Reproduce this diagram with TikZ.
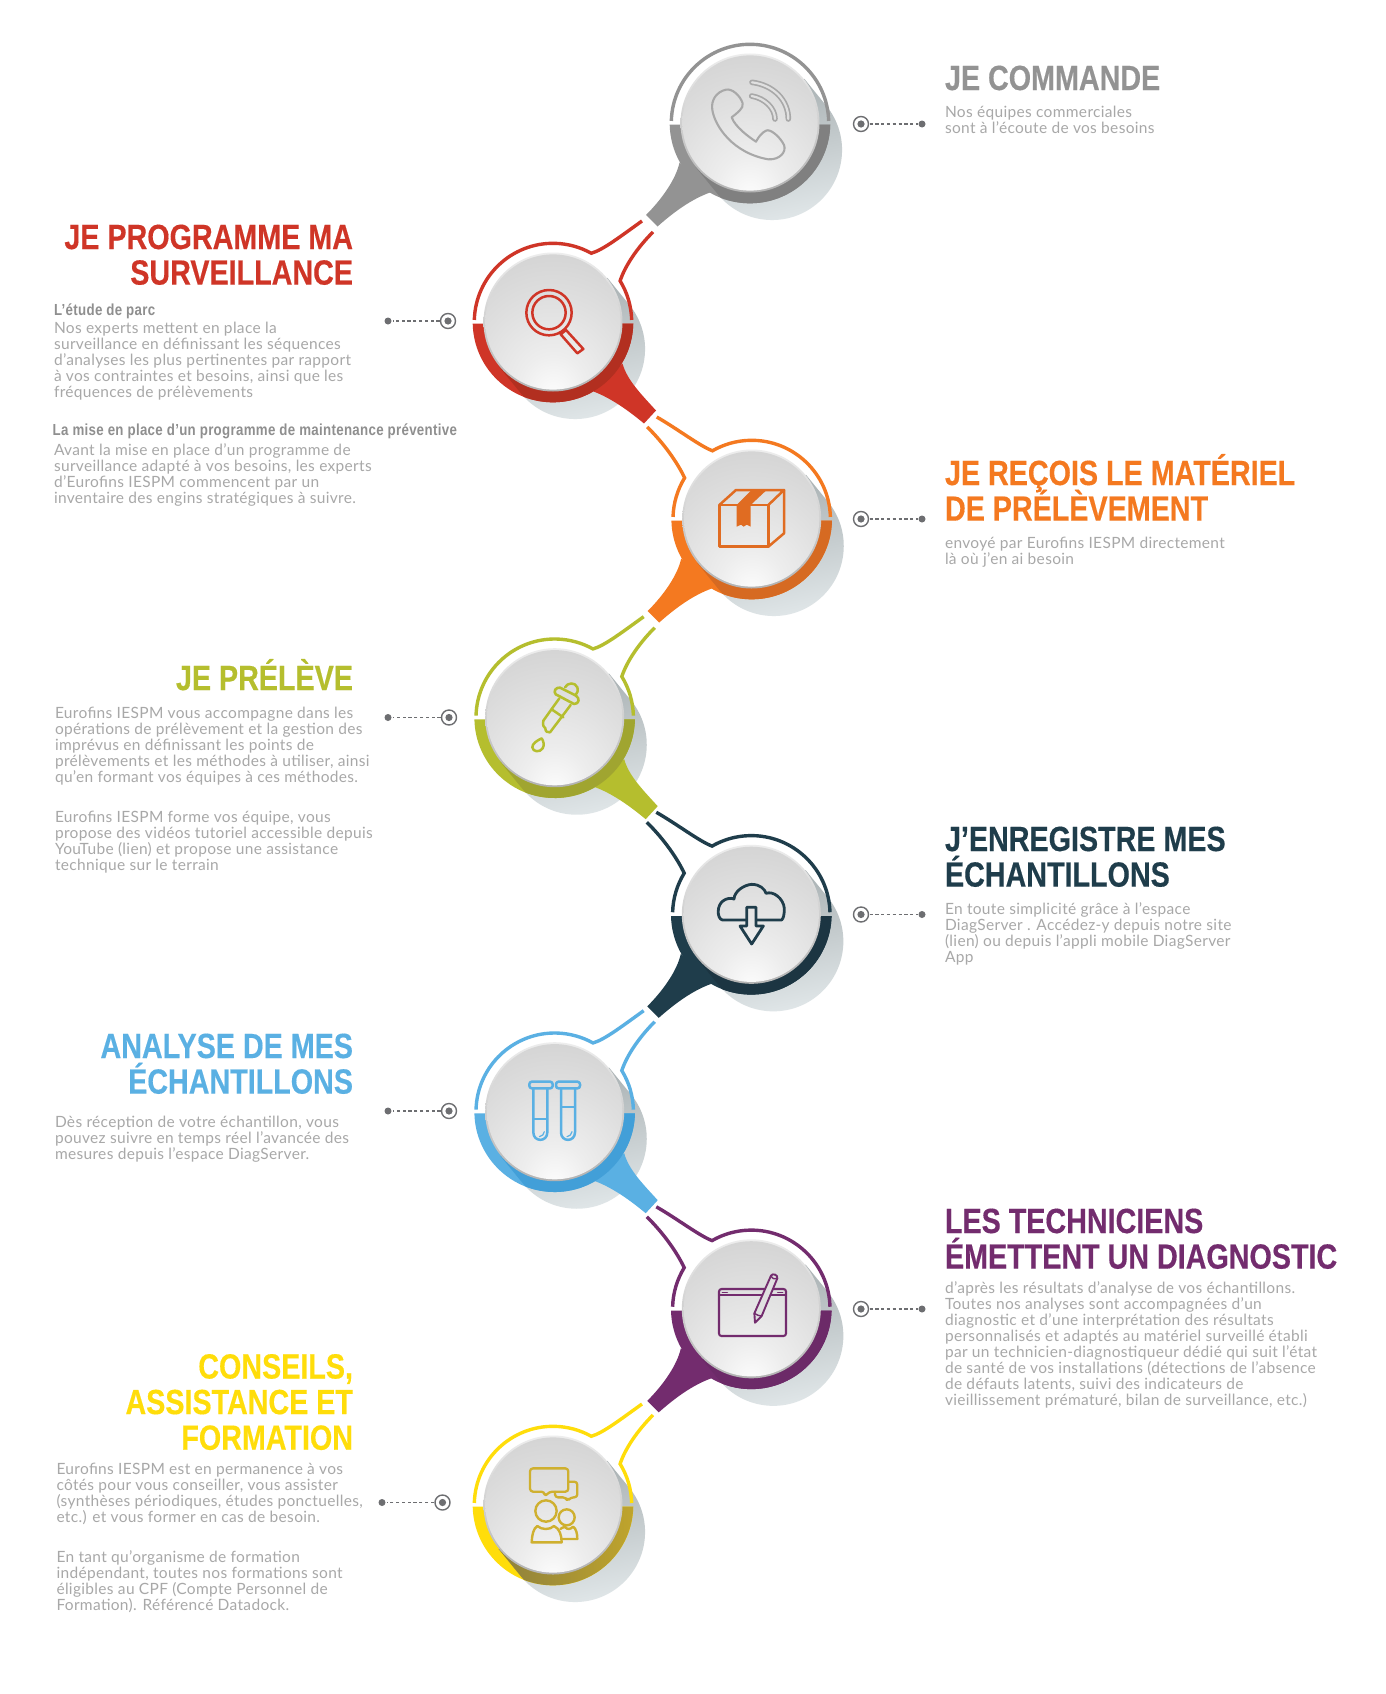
\documentclass[tikz,border=0pt]{standalone}
\usepackage{fontspec}
\setmainfont{Lato}
\newfontfamily\ttlf[FakeStretch=0.82,FakeBold=0.35]{Liberation Sans}
\newfontfamily\subf[FakeStretch=0.83,LetterSpace=2]{Liberation Sans}
\newfontfamily\bodyf[LetterSpace=2.1]{Lato}
\definecolor{cgray}{HTML}{939393}\definecolor{dgray}{HTML}{808080}
\definecolor{cred}{HTML}{CF3527}\definecolor{dred}{HTML}{B22F20}
\definecolor{cora}{HTML}{F47920}\definecolor{dora}{HTML}{D66A22}
\definecolor{cgre}{HTML}{B5BE2E}\definecolor{dgre}{HTML}{A0A530}
\definecolor{cnav}{HTML}{1F3D4B}\definecolor{dnav}{HTML}{1C3542}
\definecolor{cblu}{HTML}{5AB0E3}\definecolor{dblu}{HTML}{429FD8}
\definecolor{cpur}{HTML}{732C6E}\definecolor{dpur}{HTML}{6C2A68}
\definecolor{cyel}{HTML}{FFDD0A}\definecolor{iyel}{HTML}{CFB02F}
\definecolor{igray}{HTML}{A8A8A8}\definecolor{iora}{HTML}{E06C22}
\definecolor{bodyc}{HTML}{A8A8A8}\definecolor{subc}{HTML}{8F8F8F}
\definecolor{linkc}{HTML}{6D6E71}
\definecolor{shA}{HTML}{A6AEB0}\definecolor{shB}{HTML}{E3E9EB}
\definecolor{yelA}{HTML}{857A40}\definecolor{yelB}{HTML}{9C8C35}\definecolor{yelC}{HTML}{BFA42C}
\pgfdeclareradialshading{btnface}{\pgfpoint{0bp}{-27bp}}{rgb(0bp)=(0.99,0.99,0.99);rgb(12bp)=(0.93,0.93,0.93);rgb(28bp)=(0.875,0.875,0.875);rgb(52bp)=(0.80,0.80,0.80);rgb(100bp)=(0.80,0.80,0.80)}
\newcommand\HullPath{(54.3,44.2) -- (76.3,17.2) arc[start angle=39.2,end angle=-140.8,radius=70] -- (-54.3,-44.2) -- cycle}
\newcommand\HalfPath{(-80.3,-1.7) arc[start angle=181.2,end angle=358.8,radius=80.3] -- cycle}
\newcommand\DiscBase[2]{%
  \shade[top color=shA,bottom color=shB,shading angle=12,shift={(#1pt,-#2pt)}] \HullPath;}
\newcommand\DiscTop[2]{%
  \begin{scope}[shift={(#1pt,-#2pt)}]
    \shade[top color=black!7,bottom color=black!30] (0,0) circle[radius=69.5];
    \shade[shading=btnface] (0,0) circle[radius=67.6];
  \end{scope}}
\newcommand\DarkRing[3]{%
  \begin{scope}[shift={(#1pt,-#2pt)}]
    \clip \HullPath;
    \fill[#3] \HalfPath;
  \end{scope}}
\newcommand\TailRight[3]{%
  \begin{scope}[shift={(#1pt,-#2pt)}]
    \fill[#3] \HalfPath;
    \fill[#3] (69.5,-41.5) .. controls (74,-58) and (88,-72) .. (103,-88.5) -- (91,-101.5) .. controls (76,-89) and (58,-76) .. (40.5,-69.5) -- cycle;
  \end{scope}}
\newcommand\TailLeft[3]{%
  \begin{scope}[shift={(#1pt,-#2pt)}]
    \fill[#3] \HalfPath;
    \fill[#3] (-70.5,-39.5) .. controls (-74,-56) and (-88,-76) .. (-104,-92) -- (-92.5,-103.5) .. controls (-75,-88) and (-58,-76) .. (-40,-69.5) -- cycle;
  \end{scope}}
\tikzset{
  thinring/.style={line width=3.4pt,line join=miter},
  ttl/.style={font=\ttlf\bfseries\fontsize{35}{35.6}\selectfont,inner sep=0pt,outer sep=0pt},
  ttlR/.style={ttl,align=right,anchor=north east},
  ttlW/.style={ttl,align=left,anchor=north west},
  body/.style={font=\bodyf\fontsize{15.5}{16.1}\selectfont,text=bodyc,inner sep=0pt,outer sep=0pt,align=left,anchor=north west},
  sub/.style={font=\subf\bfseries\fontsize{16}{16.1}\selectfont,text=subc,inner sep=0pt,outer sep=0pt,align=left,anchor=north west},
  targ/.style={circle,draw=linkc,line width=1.4pt,fill=white,minimum size=15pt,inner sep=0pt,outer sep=1pt},
  dotn/.style={circle,fill=linkc,minimum size=7pt,inner sep=0pt,outer sep=1pt},
  conn/.style={draw=linkc,line width=1.1pt,dash pattern=on 3.2pt off 2.6pt},
  icon/.style n args={2}{shift={(#1pt,-#2pt)},x=0.33333pt,y=-0.33333pt},
  ln/.style={line width=#1,line join=round,line cap=round}
}
\newcommand\T{\rule{0pt}{30pt}}
\newcommand\B{\rule{0pt}{12pt}}
\begin{document}
\begin{tikzpicture}[x=1pt,y=1pt]
\lineskiplimit=-100pt \normallineskiplimit=-100pt
\useasboundingbox (0,0) rectangle (1385,-1694);
\fill[white] (0,0) rectangle (1385,-1694);
% ---------- shadows
\DiscBase{750}{123}\DiscBase{553}{322}\DiscBase{751.7}{519}\DiscBase{554.7}{717.7}
\DiscBase{751.3}{914.3}\DiscBase{554.7}{1111.7}\DiscBase{751.3}{1308.8}\DiscBase{553}{1505}
% ---------- rings and tails
\TailLeft{750}{123}{cgray}\DarkRing{750}{123}{dgray}
\TailRight{553}{322}{cred}\DarkRing{553}{322}{dred}
\TailLeft{751.7}{519}{cora}\DarkRing{751.7}{519}{dora}
\TailRight{554.7}{717.7}{cgre}\DarkRing{554.7}{717.7}{dgre}
\TailLeft{751.3}{914.3}{cnav}\DarkRing{751.3}{914.3}{dnav}
\TailRight{554.7}{1111.7}{cblu}\DarkRing{554.7}{1111.7}{dblu}
\TailLeft{751.3}{1308.8}{cpur}\DarkRing{751.3}{1308.8}{dpur}
\begin{scope}[shift={(553pt,-1505pt)}]
  \fill[cyel] \HalfPath;
  \begin{scope}\clip \HullPath;
    \shade[left color=yelA,middle color=yelB,right color=yelC] \HalfPath;
  \end{scope}
\end{scope}
% ---------- thin arcs
\draw[cgray,thinring,shift={(750pt,-123pt)}] (178.5:78.7) arc[start angle=178.5,end angle=1.5,radius=78.7];
\foreach \cx/\cy/\cc in {553/322/cred,554.7/717.7/cgre,554.7/1111.7/cblu,553/1505/cyel}{
  \begin{scope}[shift={(\cx pt,-\cy pt)}]
    \draw[\cc,thinring] (178.5:78.7) arc[start angle=178.5,end angle=60.9,radius=78.7] .. controls (50,72) and (68,86) .. (89,101);
    \draw[\cc,thinring] (1.5:78.7) arc[start angle=1.5,end angle=31.5,radius=78.7] .. controls (72,56) and (84,74) .. (100,90);
  \end{scope}}
\foreach \cx/\cy/\cc in {751.7/519/cora,751.3/914.3/cnav,751.3/1308.8/cpur}{
  \begin{scope}[shift={(\cx pt,-\cy pt)}]
    \draw[\cc,thinring] (1.5:78.7) arc[start angle=1.5,end angle=119.9,radius=78.7] .. controls (-52,73) and (-74,90) .. (-95,102);
    \draw[\cc,thinring] (178.5:78.7) arc[start angle=178.5,end angle=148.5,radius=78.7] .. controls (-74,56) and (-88,76) .. (-104.5,92);
  \end{scope}}
% ---------- buttons
\DiscTop{750}{123}\DiscTop{553}{322}\DiscTop{751.7}{519}\DiscTop{554.7}{717.7}
\DiscTop{751.3}{914.3}\DiscTop{554.7}{1111.7}\DiscTop{751.3}{1308.8}\DiscTop{553}{1505}
% ---------- icons
\begin{scope}[icon={620}{20},igray]
  \draw[ln=2.1pt] (335,292) .. controls (350,280) and (372,265) .. (368,250) .. controls (360,225) and (335,205) .. (318,209) .. controls (290,215) and (272,240) .. (277,270) .. controls (285,320) and (340,400) .. (445,418) .. controls (480,420) and (500,395) .. (492,375) .. controls (480,350) and (450,325) .. (438,332) .. controls (425,338) and (415,352) .. (408,365) .. controls (385,350) and (345,320) .. (335,292) -- cycle;
  \draw[ln=5.6pt] (396,187) .. controls (460,195) and (505,240) .. (505,297);
  \draw[ln=5.6pt] (395,228) .. controls (435,235) and (465,265) .. (465,297);
  \draw[ln=2.2pt,black!12] (396,187) .. controls (460,195) and (505,240) .. (505,297);
  \draw[ln=2.2pt,black!12] (395,228) .. controls (435,235) and (465,265) .. (465,297);
\end{scope}
\begin{scope}[icon={440}{200},cred]
  \draw[ln=2.5pt] (327,338) circle[radius=68];
  \draw[ln=2.5pt] (327,338) circle[radius=50];
  \draw[ln=2.5pt] (362,403) -- (378,390) -- (430,447) -- (412,460) -- cycle;
\end{scope}
\begin{scope}[icon={630}{420},iora]
  \draw[ln=2.5pt] (268,255) rectangle (415,380);
  \draw[ln=2.5pt] (268,255) -- (318,210) -- (462,210) -- (415,255);
  \draw[ln=2.5pt] (415,380) -- (462,340) -- (462,210);
  \fill (320,255) -- (320,320) -- (333,314) -- (341,320) -- (350,314) -- (362,320) -- (362,255) -- (410,210) -- (365,210) -- cycle;
\end{scope}
\begin{scope}[icon={470}{630},cgre]
  \draw[ln=2.6pt] (262,174) .. controls (250,178) and (252,195) .. (265,197) -- (312,222) .. controls (328,222) and (330,205) .. (318,197) -- (270,173) -- cycle;
  \draw[ln=2.5pt] (285,172) .. controls (292,158) and (315,155) .. (322,172) .. controls (325,182) and (322,190) .. (316,196);
  \draw[ln=2.5pt] (268,205) -- (220,272) .. controls (218,285) and (220,292) .. (226,295) .. controls (226,305) and (232,308) .. (240,307) -- (302,225);
  \draw[ln=2.5pt] (245,238) -- (280,262);
  \draw[ln=2.5pt] (215,325) .. controls (200,332) and (186,342) .. (187,352) .. controls (188,366) and (210,368) .. (218,355) .. controls (224,345) and (220,332) .. (215,325) -- cycle;
\end{scope}
\begin{scope}[icon={665}{830},cnav]
  \draw[ln=2.8pt] (242,270) -- (172,270) .. controls (155,265) and (155,225) .. (175,212) .. controls (185,205) and (198,203) .. (207,207) .. controls (208,185) and (235,165) .. (260,163) .. controls (285,163) and (300,178) .. (303,190) .. controls (325,182) and (355,205) .. (358,235) .. controls (358,255) and (355,265) .. (350,270) -- (275,270);
  \draw[ln=2.8pt] (245,270) -- (245,232) -- (273,232) -- (273,288) -- (295,288) -- (260,342) -- (225,288) -- (245,288) -- cycle;
\end{scope}
\begin{scope}[icon={470}{1025},cblu]
  \draw[ln=2.5pt,rounded corners=2.5pt] (178,170) rectangle (248,190);
  \draw[ln=2.5pt,rounded corners=2.5pt] (258,170) rectangle (330,190);
  \draw[ln=2.5pt] (190,190) -- (190,322) .. controls (190,352) and (232,352) .. (232,322) -- (232,190);
  \draw[ln=2.5pt] (273,190) -- (273,322) .. controls (273,352) and (315,352) .. (315,322) -- (315,190);
  \draw[ln=2pt] (190,283) -- (232,283);
  \draw[ln=2pt] (273,245) -- (315,245);
  \draw[ln=1.2pt] (208,335) .. controls (216,334) and (222,328) .. (223,320);
  \draw[ln=1.2pt] (291,335) .. controls (299,334) and (305,328) .. (306,320);
\end{scope}
\begin{scope}[icon={665}{1225},cpur]
  \draw[ln=2.1pt,rounded corners=2.5pt] (162,192) rectangle (363,333);
  \draw[ln=1.7pt] (162,210) -- (363,210);
  \draw[ln=1.4pt] (172,203) -- (187,203);
  \draw[ln=1.4pt] (338,203) -- (353,203);
  \filldraw[ln=1.9pt,fill=black!12] (270,293) -- (268,265) -- (318,152) .. controls (322,143) and (340,150) .. (337,160) -- (290,273) -- cycle;
  \draw[ln=1.4pt] (268,265) .. controls (275,270) and (283,273) .. (290,273);
  \draw[ln=1.4pt] (318,152) .. controls (322,162) and (330,164) .. (337,160);
\end{scope}
\begin{scope}[icon={450}{1400},iyel]
  \draw[ln=2.3pt,rounded corners=3pt] (355,245) -- (382,245) -- (382,292) -- (362,292) -- (353,303) -- (347,292) -- (315,292) -- (315,275);
  \draw[ln=2.3pt,rounded corners=3pt] (240,205) -- (355,205) -- (355,275) -- (298,275) -- (285,290) -- (283,275) -- (240,275) -- cycle;
  \draw[ln=2.4pt] (288,333) circle[radius=32];
  \draw[ln=2.4pt] (350,352) circle[radius=24];
  \draw[ln=2.4pt] (245,427) .. controls (246,405) and (250,385) .. (262,378) .. controls (275,390) and (300,390) .. (312,378) .. controls (328,385) and (335,405) .. (335,427) -- cycle;
  \draw[ln=2.4pt] (331,387) .. controls (335,384) and (340,381) .. (345,381) .. controls (352,390) and (362,388) .. (369,380) .. controls (378,385) and (382,400) .. (382,417) -- (337,417);
\end{scope}
% ---------- leader lines
\foreach \n/\tx/\dx/\yy in {a/861/922/124,b/448/388/321,c/861/922/519,d/449/388/717.5,e/861/922/914.5,f/449/388/1111,g/861/922/1309,h/442.5/382/1502.5}{
  \node[targ] (t\n) at (\tx,-\yy) {};
  \fill[linkc] (t\n.center) circle[radius=3.6];
  \node[dotn] (d\n) at (\dx,-\yy) {};
  \draw[conn] (t\n) -- (d\n);
}
% ---------- texts
\node[ttlW,text=cgray] (h1) at (945,-60) {\T JE COMMANDE};
\node[body] (p1) at (945,-105) {\B Nos équipes commerciales\\sont à l’écoute de vos besoins};
\node[ttlR,text=cred] (h2) at (353,-219) {\T JE PROGRAMME MA\\SURVEILLANCE};
\node[sub] (s2a) at (54,-303) {\B L’étude de parc};
\node[body] (p2a) at (54,-321) {\B Nos experts mettent en place la\\surveillance en définissant les séquences\\d’analyses les plus pertinentes par rapport\\à vos contraintes et besoins, ainsi que les\\fréquences de prélèvements};
\node[sub] (s2b) at (52.7,-423.5) {\B La mise en place d’un programme de maintenance préventive};
\node[body] (p2b) at (54,-443) {\B Avant la mise en place d’un programme de\\surveillance adapté à vos besoins, les experts\\d’Eurofins IESPM commencent par un\\inventaire des engins stratégiques à suivre.};
\node[ttlW,text=cora] (h3) at (945,-454) {\T JE REÇOIS LE MATÉRIEL\\DE PRÉLÈVEMENT};
\node[body] (p3) at (945,-536) {\B envoyé par Eurofins IESPM directement\\là où j’en ai besoin};
\node[ttlR,text=cgre] (h4) at (353,-659) {\T JE PRÉLÈVE};
\node[body] (p4a) at (55,-706) {\B Eurofins IESPM vous accompagne dans les\\opérations de prélèvement et la gestion des\\imprévus en définissant les points de\\prélèvements et les méthodes à utiliser, ainsi\\qu’en formant vos équipes à ces méthodes.};
\node[body] (p4b) at (55,-810) {\B Eurofins IESPM forme vos équipe, vous\\propose des vidéos tutoriel accessible depuis\\YouTube (lien) et propose une assistance\\technique sur le terrain};
\node[ttlW,text=cnav] (h5) at (945,-821) {\T J’ENREGISTRE MES\\ÉCHANTILLONS};
\node[body] (p5) at (945,-902) {\B En toute simplicité grâce à l’espace\\DiagServer . Accédez-y depuis notre site\\(lien) ou depuis l’appli mobile DiagServer\\App};
\node[ttlR,text=cblu] (h6) at (353,-1028) {\T ANALYSE DE MES\\ÉCHANTILLONS};
\node[body] (p6) at (55,-1115) {\B Dès réception de votre échantillon, vous\\pouvez suivre en temps réel l’avancée des\\mesures depuis l’espace DiagServer.};
\node[ttlW,text=cpur] (h7) at (945,-1203) {\T LES TECHNICIENS\\ÉMETTENT UN DIAGNOSTIC};
\node[body] (p7) at (945,-1281) {\B d’après les résultats d’analyse de vos échantillons.\\Toutes nos analyses sont accompagnées d’un\\diagnostic et d’une interprétation des résultats\\personnalisés et adaptés au matériel surveillé établi\\par un technicien-diagnostiqueur dédié qui suit l’état\\de santé de vos installations (détections de l’absence\\de défauts latents, suivi des indicateurs de\\vieillissement prématuré, bilan de surveillance, etc.)};
\node[ttlR,text=cyel] (h8) at (353,-1348.5) {\T CONSEILS,\\ASSISTANCE ET\\FORMATION};
\node[body] (p8a) at (56.5,-1462) {\B Eurofins IESPM est en permanence à vos\\côtés pour vous conseiller, vous assister\\(synthèses périodiques, études ponctuelles,\\etc.) et vous former en cas de besoin.};
\node[body] (p8b) at (56.5,-1550) {\B En tant qu’organisme de formation\\indépendant, toutes nos formations sont\\éligibles au CPF (Compte Personnel de\\Formation). Référencé Datadock.};
\end{tikzpicture}
\end{document}
